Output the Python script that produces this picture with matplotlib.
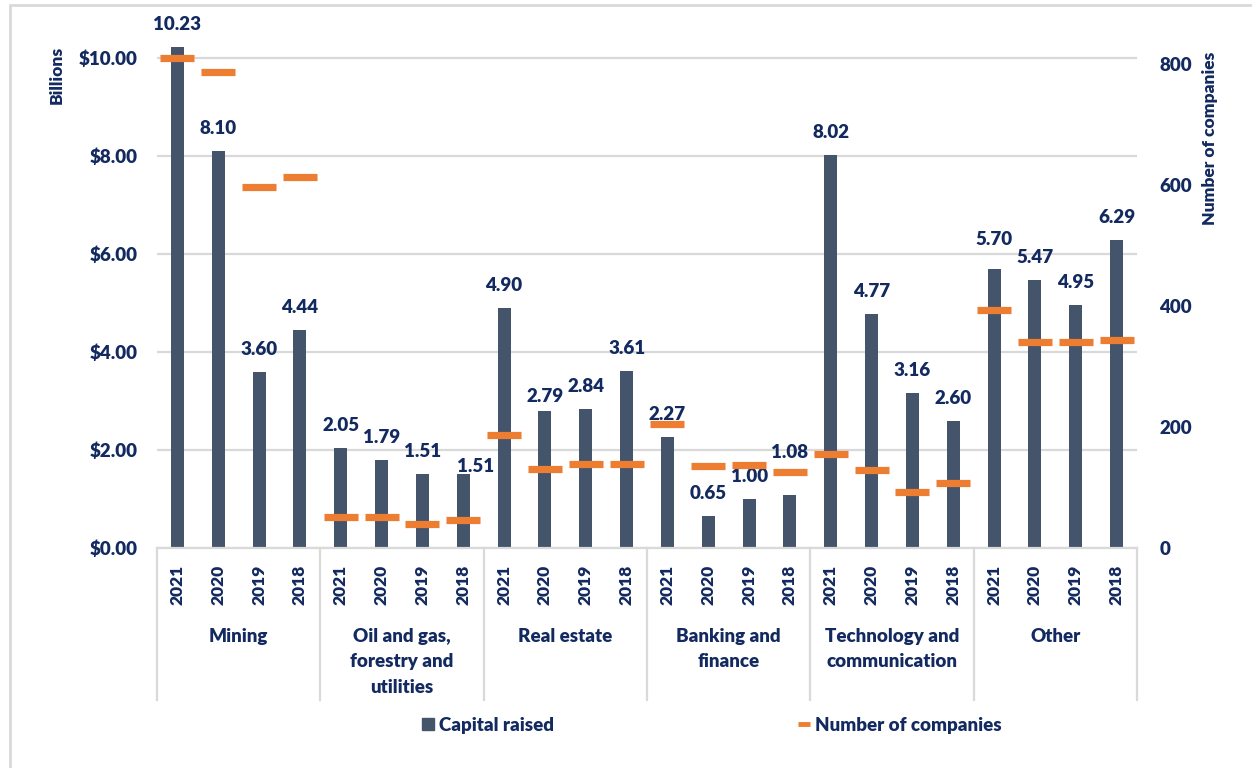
import numpy as np
import matplotlib
matplotlib.use("Agg")
import matplotlib.pyplot as plt
from matplotlib.patches import Rectangle
from matplotlib.lines import Line2D

plt.rcParams['font.family'] = ['Lato', 'DejaVu Sans']
plt.rcParams['font.weight'] = 'heavy'

# data
sectors = ["Mining", "Oil and gas,\nforestry and\nutilities", "Real estate",
           "Banking and\nfinance", "Technology and\ncommunication", "Other"]
years = ["2021", "2020", "2019", "2018"]
capital = [10.23, 8.10, 3.60, 4.44,
           2.05, 1.79, 1.51, 1.51,
           4.90, 2.79, 2.84, 3.61,
           2.27, 0.65, 1.00, 1.08,
           8.02, 4.77, 3.16, 2.60,
           5.70, 5.47, 4.95, 6.29]
companies = [810, 787, 596, 613,
             52, 52, 39, 47,
             187, 130, 138, 138,
             205, 135, 137, 125,
             156, 129, 92, 107,
             394, 341, 340, 344]

navy = '#132a60'
bar_col = '#44546a'
orange = '#ed7d31'
grid_col = '#d9d9d9'
wt = 'heavy'

# a few labels were nudged by hand in the original (pixels)
nudge = {7: (12, -15), 9: (0, -8), 15: (0, 20), 20: (0, 7)}

fig = plt.figure(figsize=(12.52, 7.68), dpi=100)
ax = fig.add_axes([157/1252, 220/768, 980/1252, 514.5/768])
ax2 = ax.twinx()

x = np.arange(len(capital))
ax.bar(x, capital, width=0.32, color=bar_col, zorder=2)
ax.set_xlim(-0.5, len(capital) - 0.5)
ax.set_ylim(0, 10.5)
ax.set_yticks([0, 2, 4, 6, 8, 10])
ax.set_yticklabels(["$%.2f" % v for v in [0, 2, 4, 6, 8, 10]], fontweight=wt)
ax.yaxis.grid(True, color=grid_col, linewidth=1.6)
ax.set_axisbelow(True)
ax.tick_params(axis='y', length=0, pad=14, labelsize=13.5, labelcolor=navy)
ax.set_xticks(x)
ax.set_xticklabels(years * len(sectors), rotation=90, fontweight=wt)
ax.tick_params(axis='x', length=0, pad=12, labelsize=12.5, labelcolor=navy)
for s in ['left', 'right', 'top']:
    ax.spines[s].set_visible(False)
ax.spines['bottom'].set_color(grid_col)
ax.spines['bottom'].set_linewidth(1.6)

for i, v in enumerate(capital):
    dx, dy = nudge.get(i, (0, 0))
    ax.annotate("%.2f" % v, (i, v), xytext=(dx * 0.72, (17 + dy) * 0.72),
                textcoords='offset points', ha='center', va='baseline',
                fontsize=13.5, color=navy, fontweight=wt)

ax2.plot(x, companies, linestyle='none', marker='_', markersize=25,
         markeredgewidth=5.2, color=orange, zorder=3)
ax2.set_ylim(0, 850)
ax2.set_yticks([0, 200, 400, 600, 800])
ax2.set_yticklabels(["0", "200", "400", "600", "800"], fontweight=wt)
ax2.tick_params(axis='y', length=0, pad=16, labelsize=13.5, labelcolor=navy)
for s in ['left', 'right', 'top', 'bottom']:
    ax2.spines[s].set_visible(False)

# group labels and separators
trans = ax.get_xaxis_transform()
for k, name in enumerate(sectors):
    ax.annotate(name, (4 * k + 1.5, 0), xycoords=trans, xytext=(0, -(628 - 548) * 0.72),
                textcoords='offset points', ha='center', va='top', fontsize=13.5,
                color=navy, fontweight=wt, linespacing=1.6)
for k in range(len(sectors) + 1):
    ax.add_line(Line2D([4 * k - 0.5, 4 * k - 0.5], [0, -152 / 514.5], transform=trans,
                       color=grid_col, linewidth=1.6, clip_on=False))

fig.text(57/1252, 1 - 75/768, "Billions", rotation=90, ha='center', va='center',
         fontsize=12.5, color=navy, fontweight=wt)
fig.text(1210/1252, 1 - 138/768, "Number of companies", rotation=90, ha='center',
         va='center', fontsize=12.5, color=navy, fontweight=wt)

handles = [Line2D([], [], linestyle='none', marker='s', markersize=9, color=bar_col),
           Line2D([], [], linestyle='none', marker='_', markersize=9,
                  markeredgewidth=3.5, color=orange)]
fig.legend(handles, ["Capital raised", "Number of companies"], ncol=2, frameon=False,
           loc='center', bbox_to_anchor=(712/1252, 1 - 725/768), handlelength=0.6,
           handletextpad=0.3, columnspacing=13.0,
           prop={'size': 13.5, 'weight': wt}, labelcolor=navy)

fig.add_artist(Rectangle((10/1252, -0.1), 1.2, 1.1 - 5/768, transform=fig.transFigure,
                         fill=False, edgecolor=grid_col, linewidth=2))

fig.savefig("out.png", dpi=100)
